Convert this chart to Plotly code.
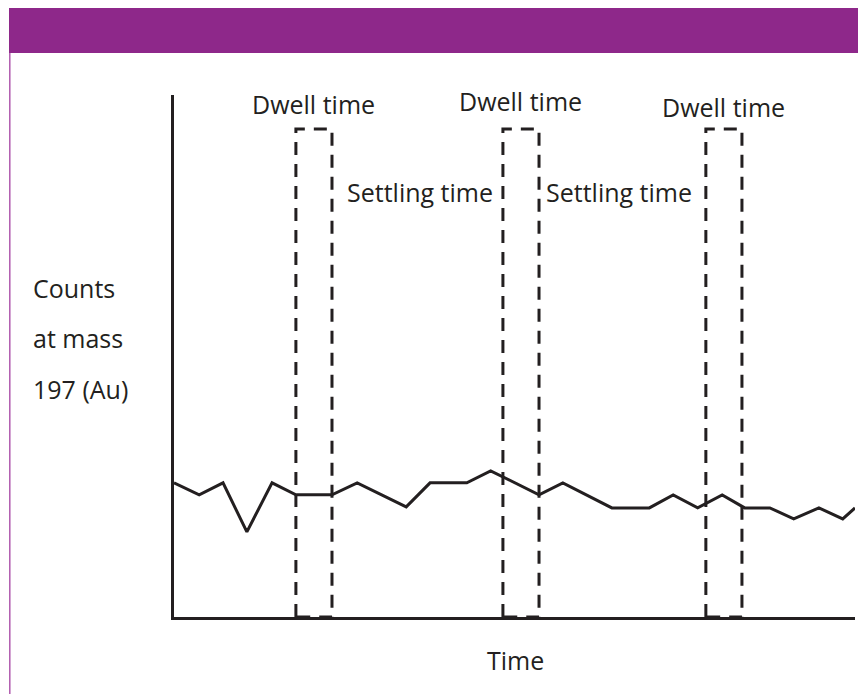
import plotly.graph_objects as go

# ---- data (arbitrary units: time 0-100, counts 0-100) ----
time = [0, 3.7, 7.2, 10.7, 14.4, 17.9, 23.2, 26.9, 34.1, 37.6, 43.0, 46.5, 53.6,
        57.1, 64.3, 69.8, 73.3, 76.9, 80.5, 83.8, 87.5, 91.0, 94.7, 98.2, 100]
counts = [25.7, 23.4, 25.7, 16.3, 25.7, 23.4, 23.4, 25.7, 21.1, 25.7, 25.7, 28.0, 23.4,
          25.7, 20.9, 20.9, 23.4, 20.9, 23.4, 20.9, 20.9, 18.8, 20.9, 18.8, 20.9]

dwell_start = [17.9, 48.3, 78.1]
dwell_end = [23.2, 53.6, 83.4]
dwell_top = 93.5
dwell_label = ["Dwell time", "Dwell time", "Dwell time"]
dwell_label_y = [98.3, 98.9, 97.7]

settling_x = [36.1, 65.3]
settling_y = 81.4
settling_label = ["Settling time", "Settling time"]

ylabel_lines = ["Counts", "at mass", "197 (Au)"]
xlabel = "Time"

# ---- layout geometry (page pixels; page has an 8px body margin) ----
OFF = 8
W, H = 866, 694
L, R, T, B = 174, 855, 95, 617
pw, ph = R - L, B - T


def px_x(px):
    return (px - L) / pw


def px_y(py):
    return (B - py) / ph


INK = "#231F20"
PURPLE = "#8E288A"
FONT = "Open Sans"
FS = 25

fig = go.Figure()

fig.add_trace(go.Scatter(x=time, y=counts, mode="lines",
                         line=dict(color=INK, width=3), hoverinfo="skip"))

for x0, x1 in zip(dwell_start, dwell_end):
    fig.add_trace(go.Scatter(x=[x0, x0, x1, x1, x0], y=[0, dwell_top, dwell_top, 0, 0],
                             mode="lines", line=dict(color=INK, width=3, dash="13px,9px"),
                             hoverinfo="skip"))

txt = dict(family=FONT, size=FS, color=INK)
ann = []
for x0, x1, lab, ly in zip(dwell_start, dwell_end, dwell_label, dwell_label_y):
    ann.append(dict(x=(x0 + x1) / 2, y=ly, xref="x", yref="y", text=lab, showarrow=False,
                    xanchor="center", yanchor="middle", font=txt))
for sx, lab in zip(settling_x, settling_label):
    ann.append(dict(x=sx, y=settling_y, xref="x", yref="y", text=lab, showarrow=False,
                    xanchor="center", yanchor="middle", font=txt))
for i, (lab, py) in enumerate(zip(ylabel_lines, [288, 338, 389])):
    ann.append(dict(x=px_x(31), y=px_y(py), xref="paper", yref="paper", text=lab,
                    showarrow=False, xanchor="left", yanchor="middle", font=txt))
ann.append(dict(x=px_x(515), y=px_y(660), xref="paper", yref="paper", text=xlabel,
                showarrow=False, xanchor="center", yanchor="middle", font=txt))

shapes = [
    dict(type="rect", xref="paper", yref="paper", x0=px_x(9), x1=px_x(880),
         y0=px_y(53), y1=px_y(8), fillcolor=PURPLE, line=dict(width=0), layer="below"),
    dict(type="line", xref="paper", yref="paper", x0=px_x(9.8), x1=px_x(9.8),
         y0=px_y(53), y1=px_y(710), line=dict(color="#B05AAE", width=1.5)),
]

fig.update_layout(
    width=W, height=H,
    margin=dict(l=L - OFF, r=W - R + OFF, t=T - OFF, b=H - B + OFF),
    paper_bgcolor="white", plot_bgcolor="white", showlegend=False,
    annotations=ann, shapes=shapes,
    xaxis=dict(range=[0, 100], showgrid=False, zeroline=False, showticklabels=False,
               ticks="", showline=True, linecolor=INK, linewidth=3),
    yaxis=dict(range=[0, 100], showgrid=False, zeroline=False, showticklabels=False,
               ticks="", showline=True, linecolor=INK, linewidth=3),
)

fig.write_html("out.html", config={"displayModeBar": False})
